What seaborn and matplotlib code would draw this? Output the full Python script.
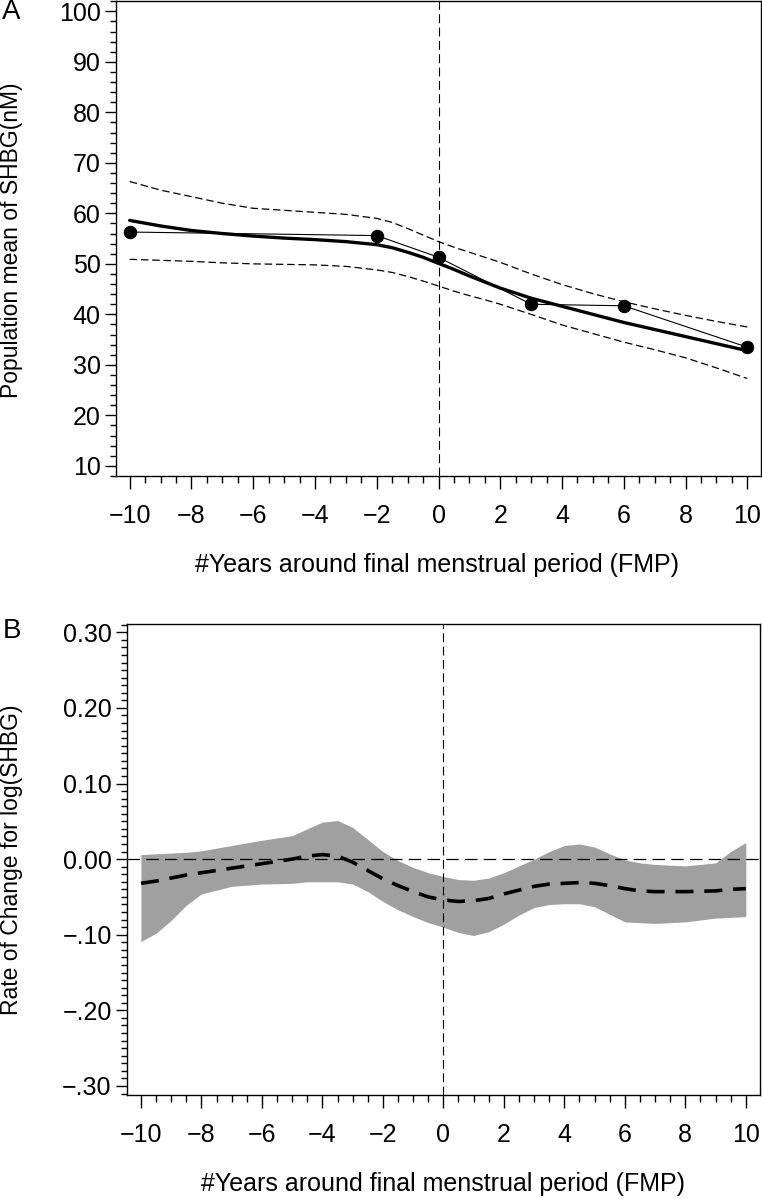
import numpy as np
import pandas as pd
import matplotlib
matplotlib.use('Agg')
import matplotlib.pyplot as plt
import matplotlib.ticker as mtick
import seaborn as sns

# ---------------- data: panel A ----------------
obs_years = [-10, -2, 0, 3, 6, 10]
obs_shbg = [56.3, 55.6, 51.3, 42.0, 41.7, 33.5]

fit_years = [-10, -9, -8, -7, -6, -5, -4, -3, -2, -1.5, -1, -0.5, 0, 0.5, 1, 1.5, 2, 3, 4, 5, 6, 7, 8, 9, 10]
fit_mean = [58.6, 57.5, 56.6, 56.0, 55.5, 55.1, 54.8, 54.4, 53.8, 53.2, 52.3, 51.3, 50.1, 48.9, 47.6, 46.4, 45.2, 43.2, 41.6, 40.0, 38.4, 37.0, 35.6, 34.2, 32.8]
fit_upper = [66.3, 64.6, 63.3, 62.0, 61.0, 60.6, 60.2, 59.8, 59.0, 58.2, 57.0, 55.7, 54.4, 53.3, 52.3, 51.3, 50.3, 48.0, 45.9, 44.1, 42.5, 41.1, 39.8, 38.6, 37.5]
fit_lower = [50.9, 50.7, 50.5, 50.2, 50.0, 49.9, 49.8, 49.5, 48.8, 48.3, 47.5, 46.6, 45.6, 44.6, 43.7, 42.9, 42.0, 40.0, 37.9, 36.2, 34.5, 33.0, 31.4, 29.4, 27.3]

# ---------------- data: panel B ----------------
rate_years = [-10, -9.5, -9, -8.5, -8, -7, -6, -5, -4.5, -4, -3.5, -3, -2.5, -2, -1.5, -1, -0.5, 0, 0.5, 1, 1.5, 2, 2.5, 3, 3.5, 4, 4.5, 5, 5.5, 6, 6.5, 7, 8, 9, 9.5, 10]
rate_mean = [-0.032, -0.029, -0.025, -0.021, -0.018, -0.012, -0.006, 0.000, 0.004, 0.006, 0.004, -0.004, -0.015, -0.026, -0.035, -0.043, -0.050, -0.054, -0.056, -0.055, -0.052, -0.046, -0.041, -0.036, -0.033, -0.032, -0.031, -0.032, -0.035, -0.039, -0.042, -0.043, -0.043, -0.042, -0.040, -0.039]
rate_upper = [0.006, 0.007, 0.008, 0.009, 0.011, 0.018, 0.025, 0.031, 0.040, 0.049, 0.051, 0.042, 0.026, 0.010, -0.002, -0.011, -0.018, -0.023, -0.027, -0.028, -0.025, -0.018, -0.009, 0.000, 0.010, 0.018, 0.020, 0.016, 0.007, -0.001, -0.005, -0.007, -0.009, -0.005, 0.010, 0.022]
rate_lower = [-0.109, -0.098, -0.081, -0.061, -0.046, -0.036, -0.033, -0.032, -0.030, -0.030, -0.030, -0.033, -0.043, -0.056, -0.067, -0.076, -0.084, -0.090, -0.097, -0.101, -0.096, -0.086, -0.074, -0.064, -0.060, -0.059, -0.059, -0.063, -0.073, -0.083, -0.084, -0.085, -0.083, -0.078, -0.077, -0.076]

obs = pd.DataFrame({'year': obs_years, 'shbg': obs_shbg})
fit = pd.DataFrame({'year': fit_years, 'mean': fit_mean, 'upper': fit_upper, 'lower': fit_lower})
rate = pd.DataFrame({'year': rate_years, 'mean': rate_mean, 'upper': rate_upper, 'lower': rate_lower})

sns.set_style('ticks')
plt.rcParams['font.family'] = ['Liberation Sans', 'DejaVu Sans']
plt.rcParams['axes.linewidth'] = 1.0
for k in ['text.color', 'axes.labelcolor', 'xtick.color', 'ytick.color', 'axes.edgecolor']:
    plt.rcParams[k] = 'black'

fig = plt.figure(figsize=(7.62, 11.99), dpi=100)
axA = fig.add_axes([0.152, 0.603, 0.847, 0.396])
axB = fig.add_axes([0.1667, 0.0867, 0.8303, 0.3929])

xlabel = '#Years around final menstrual period (FMP)'
xticks = list(range(-10, 11, 2))
xticklabels = [('\u2212' + str(abs(t))) if t < 0 else str(t) for t in xticks]

#################
# Panel A
ax = axA
sns.lineplot(data=fit, x='year', y='upper', ax=ax, color='black', lw=0.9)
ax.lines[-1].set_dashes((6, 3))
sns.lineplot(data=fit, x='year', y='lower', ax=ax, color='black', lw=0.9)
ax.lines[-1].set_dashes((6, 3))
sns.lineplot(data=fit, x='year', y='mean', ax=ax, color='black', lw=2.4)
sns.lineplot(data=obs, x='year', y='shbg', ax=ax, color='black', lw=0.8)
sns.scatterplot(data=obs, x='year', y='shbg', ax=ax, color='black', s=80, edgecolor='black', zorder=5)
ax.axvline(0, color='black', lw=0.8, dashes=(8, 4))

ax.set_xlim(-10.45, 10.45)
ax.set_ylim(8, 102)
ax.set_yticks(list(range(10, 101, 10)))
ax.yaxis.set_minor_locator(mtick.MultipleLocator(2))

ax.set_ylabel('Population mean of SHBG(nM)', fontsize=16.5, va='center')
ax.yaxis.set_label_coords(-0.161, 0.496)

#################
# Panel B
ax = axB
ax.fill_between(rate['year'], rate['lower'], rate['upper'], color='#a0a0a0', lw=0, zorder=1)
sns.lineplot(data=rate, x='year', y='mean', ax=ax, color='black', lw=2.6, zorder=3)
ax.lines[-1].set_dashes((5, 3))
ax.axvline(0, color='black', lw=0.8, dashes=(8, 4), zorder=2)
ax.axhline(0, color='black', lw=0.9, dashes=(10, 5), zorder=2)

ax.set_xlim(-10.46, 10.46)
ax.set_ylim(-0.312, 0.311)
yt = [0.30, 0.20, 0.10, 0.00, -0.10, -0.20, -0.30]
ytl = ['0.30', '0.20', '0.10', '0.00', '\u2212.10', '\u2212.20', '\u2212.30']
ax.set_yticks(yt)
ax.set_yticklabels(ytl)
ax.yaxis.set_minor_locator(mtick.MultipleLocator(0.01))

ax.set_ylabel('Rate of Change for log(SHBG)', fontsize=16.5, va='center')
ax.yaxis.set_label_coords(-0.182, 0.499)

for ax, xy in [(axA, (0.498, -0.187)), (axB, (0.5, -0.189))]:
    ax.set_xticks(xticks)
    ax.set_xticklabels(xticklabels)
    ax.xaxis.set_minor_locator(mtick.MultipleLocator(0.5))
    ax.set_xlabel(xlabel, fontsize=18, va='center')
    ax.xaxis.set_label_coords(*xy)
    ax.tick_params(axis='both', which='major', direction='out', length=9, width=1, labelsize=18, pad=11)
    ax.tick_params(axis='both', which='minor', direction='out', length=5, width=1)
    ax.tick_params(axis='y', which='major', length=8, pad=3)
    ax.tick_params(axis='y', which='minor', length=4)
    for s in ax.spines.values():
        s.set_visible(True)
        s.set_color('black')

fig.text(0.003, 0.990, 'A', fontsize=20, va='center', ha='left')
fig.text(0.003, 0.474, 'B', fontsize=20, va='center', ha='left')

plt.savefig('out.png', dpi=100)
